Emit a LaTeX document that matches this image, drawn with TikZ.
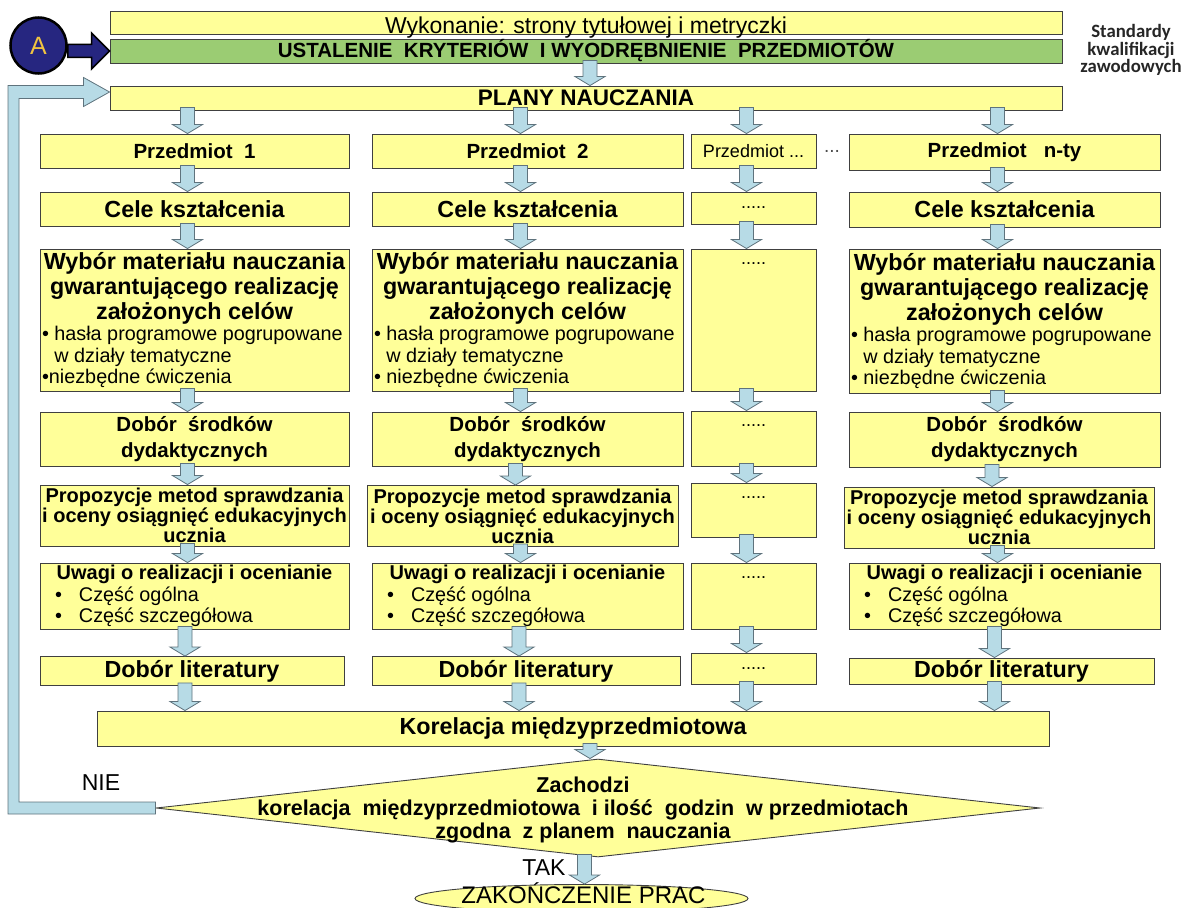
\documentclass[tikz,border=0pt]{standalone}
\usepackage{fontspec}
\setmainfont{Liberation Sans}
\newfontfamily\calib{Carlito}
\usetikzlibrary{shapes.geometric,calc}
\definecolor{yel}{RGB}{255,255,153}
\definecolor{grn}{RGB}{155,204,115}
\definecolor{navy}{RGB}{38,38,128}
\definecolor{ayel}{RGB}{240,196,64}
\definecolor{lblue}{RGB}{183,219,230}
\definecolor{lline}{RGB}{95,115,125}
\newcommand\fsz[2]{\fontsize{#1}{#2}\selectfont}
\newcommand\bultext{\mdseries\fsz{19.8}{21.5}}
\newcommand\bulmark{\makebox[24pt][l]{•}}
\newcommand\wybor[2]{\begin{minipage}{#1}\centering\fsz{23.3}{25}\bfseries
  Wybór materiału nauczania\\gwarantującego realizację\\założonych celów\par
  \raggedright\bultext #2\par\end{minipage}}
\newcommand\uwagi[1]{\begin{minipage}{#1}\centering\fsz{20}{22}\bfseries
  Uwagi o realizacji i ocenianie\par
  \raggedright\bultext\hspace*{13pt}\bulmark Część ogólna\\
  \hspace*{13pt}\bulmark Część szczegółowa\par\end{minipage}}
\newcommand\blockdown[3][-7pt]{%
  \draw[flow] let \p1=(#2), \p2=(#3) in
    ({\x2+(#1)-7pt},{\y1+3pt}) -- ({\x2+(#1)+7pt},{\y1+3pt})
    -- ({\x2+(#1)+7pt},{\y2+9pt}) -- ({\x2+(#1)+15pt},{\y2+9pt})
    -- ({\x2+(#1)},\y2) -- ({\x2+(#1)-15pt},{\y2+9pt})
    -- ({\x2+(#1)-7pt},{\y2+9pt}) -- cycle;}
\tikzset{
  box/.style={draw=black!75, fill=yel, line width=0.9pt, inner sep=1pt, align=center},
  subj/.style={font=\fsz{20.5}{22}\bfseries},
  bigtxt/.style={font=\fsz{23.3}{25}\bfseries},
  dotlbl/.style={font=\fsz{18}{18}, anchor=base, inner sep=0pt, yshift=-16pt},
  flow/.style={draw=lline, fill=lblue, line width=0.8pt},
  navyarrow/.style={draw=black, fill=navy, line width=1.5pt},
}
\begin{document}
\begin{tikzpicture}[x=1pt,y=-1pt]
\def\xa{194.5}
\def\xb{527.5}
\def\xc{753.5}
\def\xd{1004.5}
\useasboundingbox (0,0) rectangle (1185,907);
% top of the chart
\node[box, minimum width=952pt, minimum height=23pt] (wyk) at (586,22.5) {};
\node[font=\fsz{23}{23}, anchor=base, inner sep=0pt] (wyktxt) at ([yshift=1pt]wyk.south) {Wykonanie: strony tytułowej i metryczki};
\node[box, fill=grn, subj, minimum width=952pt, minimum height=24pt, inner sep=0pt] (ust) at (586,51) {USTALENIE\ \ KRYTERIÓW\ \ I WYODRĘBNIENIE\ \ PRZEDMIOTÓW};
\node[box, font=\fsz{22.5}{24}\bfseries, minimum width=952pt, minimum height=24pt, inner sep=0pt] (plany) at (586,98) {PLANY NAUCZANIA};
\node[font=\calib\fsz{18.8}{16}\bfseries, text=black!85, align=center] (std) at (1131,50) {Standardy\\kwalifikacji\\zawodowych};
\node[circle, draw, line width=2.5pt, fill=navy, text=ayel, minimum size=56pt, inner sep=0pt, font=\fsz{25}{25}] (a) at (38.5,45.5) {A};
% subjects
\node[box, subj, minimum width=309pt, minimum height=34pt] (p1) at (\xa,151) {Przedmiot\ \ 1};
\node[box, subj, minimum width=311pt, minimum height=34pt] (p2) at (\xb,151) {Przedmiot\ \ 2};
\node[box, font=\fsz{18}{18}, minimum width=125pt, minimum height=34pt] (p3) at (\xc,151) {Przedmiot ...};
\node[box, subj, minimum width=311pt, minimum height=36pt] (p4) at (\xd,152) {Przedmiot\ \ \ n-ty};
\node[font=\fsz{19}{19}, text=black!70] (more) at (832,151) {...};
\node[box, bigtxt, minimum width=309pt, minimum height=34pt] (c1) at (\xa,209) {Cele kształcenia};
\node[box, bigtxt, minimum width=311pt, minimum height=34pt] (c2) at (\xb,209) {Cele kształcenia};
\node[box, font=\fsz{18}{18}, minimum width=125pt, minimum height=32pt] (c3) at (\xc,208) {.....};
\node[box, bigtxt, minimum width=311pt, minimum height=35pt] (c4) at (\xd,209.5) {Cele kształcenia};
\node[box, minimum width=309pt, minimum height=142pt] (w1) at (\xa,320)
  {\wybor{305pt}{• hasła programowe pogrupowane\\\hphantom{• }w działy tematyczne\\•niezbędne ćwiczenia}};
\node[box, minimum width=311pt, minimum height=142pt] (w2) at (\xb,320)
  {\wybor{307pt}{• hasła programowe pogrupowane\\\hphantom{• }w działy tematyczne\\• niezbędne ćwiczenia}};
\node[box, minimum width=125pt, minimum height=142pt, label={[dotlbl]north:.....}] (w3) at (\xc,320) {};
\node[box, minimum width=311pt, minimum height=144pt] (w4) at (\xd,321)
  {\wybor{307pt}{• hasła programowe pogrupowane\\\hphantom{• }w działy tematyczne\\• niezbędne ćwiczenia}};
\node[box, font=\fsz{20.5}{26}\bfseries, minimum width=309pt, minimum height=54pt] (d1) at (\xa,439) {Dobór\ \ środków\\dydaktycznych};
\node[box, font=\fsz{20.5}{26}\bfseries, minimum width=311pt, minimum height=54pt] (d2) at (\xb,439) {Dobór\ \ środków\\dydaktycznych};
\node[box, minimum width=125pt, minimum height=55pt, label={[dotlbl]north:.....}] (d3) at (\xc,438.5) {};
\node[box, font=\fsz{20.5}{26}\bfseries, minimum width=311pt, minimum height=55pt] (d4) at (\xd,439.5) {Dobór\ \ środków\\dydaktycznych};
\node[box, font=\fsz{20}{20}\bfseries, minimum width=309pt, minimum height=61pt] (r1) at (\xa,515.5) {Propozycje metod sprawdzania\\i oceny osiągnięć edukacyjnych\\ucznia};
\node[box, font=\fsz{20}{20}\bfseries, minimum width=311pt, minimum height=61pt] (r2) at (522.5,516) {Propozycje metod sprawdzania\\i oceny osiągnięć edukacyjnych\\ucznia};
\node[box, minimum width=125pt, minimum height=54pt, label={[dotlbl]north:.....}] (r3) at (\xc,510) {};
\node[box, font=\fsz{20}{20}\bfseries, minimum width=310pt, minimum height=61pt] (r4) at (999,517.5) {Propozycje metod sprawdzania\\i oceny osiągnięć edukacyjnych\\ucznia};
\node[box, minimum width=309pt, minimum height=66pt] (u1) at (\xa,596) {\uwagi{305pt}};
\node[box, minimum width=311pt, minimum height=66pt] (u2) at (\xb,596) {\uwagi{307pt}};
\node[box, minimum width=125pt, minimum height=66pt, label={[dotlbl]north:.....}] (u3) at (\xc,596) {};
\node[box, minimum width=311pt, minimum height=66pt] (u4) at (\xd,596) {\uwagi{307pt}};
\node[box, bigtxt, minimum width=304pt, minimum height=29pt] (l1) at (192,671) {Dobór literatury};
\node[box, bigtxt, minimum width=308pt, minimum height=29pt] (l2) at (526,671) {Dobór literatury};
\node[box, font=\fsz{18}{18}, minimum width=125pt, minimum height=31pt] (l3) at (\xc,668.5) {.....};
\node[box, bigtxt, minimum width=305pt, minimum height=26pt, inner sep=0pt] (l4) at (1001.5,671) {Dobór literatury};
% bottom of the chart
\node[box, bigtxt, minimum width=952pt, minimum height=35pt] (kor) at (573,728.5) {Korelacja międzyprzedmiotowa};
\node[diamond, draw=black!75, fill=yel, line width=0.9pt, minimum width=884pt, minimum height=98pt, inner sep=0pt] (dec) at (598,808) {};
\node[align=center, font=\fsz{21.5}{23}\bfseries] (dectxt) at (583,810) {Zachodzi\\korelacja\ \ międzyprzedmiotowa\ \ i ilość\ \ godzin\ \ w przedmiotach\\zgodna\ \ z planem\ \ nauczania};
\node[ellipse, draw=black!75, fill=yel, line width=0.9pt, minimum width=333pt, minimum height=28pt, inner sep=0pt] (end) at (581.5,898.5) {};
\node[font=\fsz{24}{24}, anchor=base, inner sep=0pt] (endtxt) at (583.5,903.5) {ZAKOŃCZENIE PRAC};
\node[font=\fsz{23}{23}] (nie) at (101,783) {NIE};
\node[font=\fsz{23}{23}] (tak) at (544,868) {TAK};
% connectors
\draw[navyarrow] let \p1=(a.east), \p2=(ust.west) in
  (\x1,{\y2+6.5pt}) -- ({\x2-18pt},{\y2+6.5pt}) -- ({\x2-18pt},{\y2+18pt}) -- (\x2,\y2)
  -- ({\x2-18pt},{\y2-18pt}) -- ({\x2-18pt},{\y2-6.5pt}) -- (\x1,{\y2-6.5pt}) -- cycle;
\blockdown[4pt]{ust.south}{plany.north}
\foreach \c in {1,2,3,4}{
  \blockdown{p\c.north |- plany.south}{p\c.north}
  \foreach \s/\t in {p/c,c/w,w/d,d/r,r/u,u/l}
    {\blockdown{\s\c.south}{\t\c.north}}
  \blockdown{l\c.south}{l\c.south |- kor.north}
}
\blockdown[-8pt]{kor.south -| dec.north}{dec.north}
\blockdown[3pt]{dec.south}{end.north}
\coordinate (back) at ([yshift=6pt]plany.west);
\draw[flow] let \p1=(dec.west), \p2=(back) in
  (\x1,{\y1+6pt}) -- (19pt,{\y1+6pt}) -- (19pt,{\y2-6.5pt}) -- ({\x2-26pt},{\y2-6.5pt})
  -- ({\x2-26pt},{\y2-14.5pt}) -- (\x2,\y2) -- ({\x2-26pt},{\y2+14.5pt})
  -- ({\x2-26pt},{\y2+6.5pt}) -- (8pt,{\y2+6.5pt}) -- (8pt,{\y1-6pt}) -- (\x1,{\y1-6pt}) -- cycle;
\end{tikzpicture}
\end{document}
